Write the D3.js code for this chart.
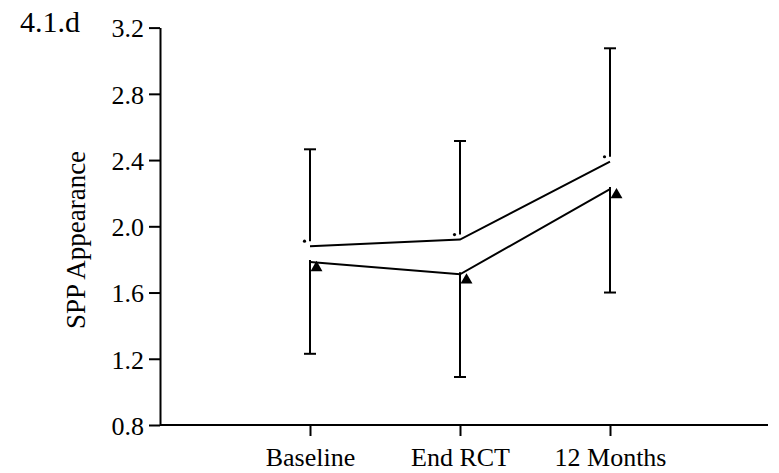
<!DOCTYPE html>
<html lang="en">
<head>
<meta charset="UTF-8">
<title>SPP Appearance</title>
<script src="https://d3js.org/d3.v7.min.js"></script>
<style type="text/css">
    body { margin: 0; background: #fff; }
    .axis path, .axis line { stroke: #000; stroke-width: 2px; }
</style>
</head>
<body>
<div id="svgDiv"></div>
<script type="text/javascript">

    // time points
    var categories = ["Baseline", "End RCT", "12 Months"];
    var yTicks = [0.8, 1.2, 1.6, 2.0, 2.4, 2.8, 3.2];

    // upper group (dot markers, error bars going up)
    var upperLine = [1.88, 1.92, 2.39];
    var upperDot = [1.91, 1.95, 2.42];
    var upperCap = [2.465, 2.515, 3.075];

    // lower group (triangle markers, error bars going down)
    var lowerLine = [1.785, 1.71, 2.225];
    var lowerTri = [1.75, 1.675, 2.19];
    var lowerCap = [1.23, 1.09, 1.60];

    var svgWidth = 779, svgHeight = 473;
    var plotLeft = 160, plotRight = 768, plotTop = 27.6, plotBottom = 425;
    var serif = "Liberation Serif, Times New Roman, serif";

    var svg = d3.select("#svgDiv")
        .append("svg")
        .attr("width", svgWidth)
        .attr("height", svgHeight);

    var x = d3.scalePoint()
        .domain(categories)
        .range([plotLeft, 760])
        .padding(1);

    var y = d3.scaleLinear()
        .domain([0.8, 3.2])
        .range([plotBottom, plotTop]);

    //y axis
    var yAxis = svg.append("g")
        .attr("class", "axis")
        .attr("transform", "translate(" + plotLeft + ",0)")
        .call(d3.axisLeft(y)
            .tickValues(yTicks)
            .tickFormat(d3.format(".1f"))
            .tickSize(11)
            .tickSizeOuter(0)
            .tickPadding(5));
    yAxis.selectAll("text")
        .attr("dy", "0.36em")
        .style("font-family", serif)
        .style("font-size", "26px")
        .style("fill", "#000");

    //x axis
    var xAxis = svg.append("g")
        .attr("class", "axis")
        .attr("transform", "translate(0," + plotBottom + ")")
        .call(d3.axisBottom(x).tickSize(11).tickSizeOuter(0).tickPadding(12));
    xAxis.select(".domain").attr("d", "M" + plotLeft + ",0H" + plotRight);
    xAxis.selectAll("text")
        .attr("dy", "0.68em")
        .style("font-family", serif)
        .style("font-size", "26px")
        .style("fill", "#000");

    //axis title
    svg.append("text")
        .attr("transform", "translate(85,240) rotate(-90)")
        .attr("text-anchor", "middle")
        .style("font-family", serif)
        .style("font-size", "27px")
        .text("SPP Appearance");

    svg.append("text")
        .attr("x", 20)
        .attr("y", 32)
        .style("font-family", serif)
        .style("font-size", "30px")
        .text("4.1.d");

    var idx = d3.range(categories.length);
    var line = d3.line()
        .x(function(i){ return x(categories[i]); });

    //mean lines
    svg.append("path")
        .datum(idx)
        .attr("fill", "none")
        .attr("stroke", "#000")
        .attr("stroke-width", 2)
        .attr("d", line.y(function(i){ return y(upperLine[i]); }));

    svg.append("path")
        .datum(idx)
        .attr("fill", "none")
        .attr("stroke", "#000")
        .attr("stroke-width", 2)
        .attr("d", line.y(function(i){ return y(lowerLine[i]); }));

    //error bars
    var bars = svg.append("g")
        .attr("stroke", "#000")
        .attr("stroke-width", 2);

    idx.forEach(function(i){
        var cx = x(categories[i]);
        bars.append("line")
            .attr("x1", cx).attr("x2", cx)
            .attr("y1", y(upperDot[i])).attr("y2", y(upperCap[i]));
        bars.append("line")
            .attr("x1", cx - 6).attr("x2", cx + 6)
            .attr("y1", y(upperCap[i])).attr("y2", y(upperCap[i]));
        bars.append("line")
            .attr("x1", cx).attr("x2", cx)
            .attr("y1", y(lowerLine[i]) - 2).attr("y2", y(lowerCap[i]));
        bars.append("line")
            .attr("x1", cx - 6).attr("x2", cx + 6)
            .attr("y1", y(lowerCap[i])).attr("y2", y(lowerCap[i]));
    });

    //dot markers
    svg.selectAll(".dot")
        .data(idx)
        .enter().append("circle")
        .attr("class", "dot")
        .attr("cx", function(i){ return x(categories[i]) - 5.5; })
        .attr("cy", function(i){ return y(upperDot[i]); })
        .attr("r", 1.6)
        .attr("fill", "#000");

    //triangle markers
    var tri = d3.symbol().type(d3.symbolTriangle).size(62);
    svg.selectAll(".tri")
        .data(idx)
        .enter().append("path")
        .attr("class", "tri")
        .attr("transform", function(i){
            return "translate(" + (x(categories[i]) + 6.5) + "," + y(lowerTri[i]) + ")";
        })
        .attr("d", tri)
        .attr("fill", "#000");

</script>
</body>
</html>
